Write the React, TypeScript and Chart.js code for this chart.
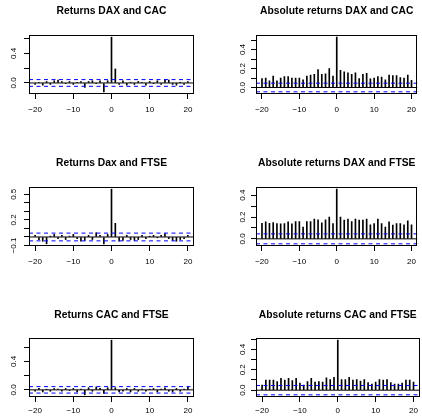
import React, { useEffect, useRef } from "react";
import { Chart, registerables } from "chart.js";

Chart.register(...registerables);

// ---------- data ----------
const lags = [
  -20, -19, -18, -17, -16, -15, -14, -13, -12, -11, -10, -9, -8, -7, -6, -5, -4, -3, -2, -1,
  0, 1, 2, 3, 4, 5, 6, 7, 8, 9, 10, 11, 12, 13, 14, 15, 16, 17, 18, 19, 20,
];

const ciLevel = 0.0455;

const xTickValues = [-20, -10, 0, 10, 20];
const xTickLabels = ["\u221220", "\u221210", "0", "10", "20"];

const titles = [
  "Returns DAX and CAC",
  "Absolute returns DAX and CAC",
  "Returns Dax and FTSE",
  "Absolute returns DAX and FTSE",
  "Returns CAC and FTSE",
  "Absolute returns CAC and FTSE",
];

const retDaxCac = [
  -0.02, 0.01, -0.03, 0.02, -0.02, 0.03, 0.04, 0.02, -0.01, 0.02, -0.02, 0.01, 0.02, -0.06, 0.02, 0.03, -0.01, 0.03, -0.12, 0.03,
  0.62,
  0.19, -0.02, 0.03, -0.03, 0.01, -0.02, 0.02, 0.01, -0.03, 0.02, -0.01, 0.03, -0.02, 0.05, 0.04, -0.02, -0.03, 0.01, -0.02, 0.02,
];
const absDaxCac = [
  0.095, 0.1, 0.07, 0.12, 0.07, 0.1, 0.115, 0.115, 0.1, 0.1, 0.1, 0.08, 0.12, 0.13, 0.14, 0.19, 0.14, 0.145, 0.2, 0.12,
  0.53,
  0.18, 0.165, 0.155, 0.14, 0.155, 0.095, 0.14, 0.15, 0.09, 0.1, 0.115, 0.11, 0.08, 0.13, 0.125, 0.125, 0.105, 0.1, 0.13, 0.075,
];
const retDaxFtse = [
  0.02, -0.03, -0.05, -0.08, 0.01, 0.03, -0.02, 0.02, -0.03, 0.01, 0.03, -0.02, -0.05, -0.04, 0.02, -0.03, 0.05, 0.02, -0.08, 0.03,
  0.56,
  0.16, -0.05, -0.04, 0.02, -0.03, -0.04, -0.03, 0.02, -0.02, 0.01, 0.02, -0.01, 0.02, 0.04, -0.02, -0.04, -0.05, -0.03, -0.02, 0.02,
];
const absDaxFtse = [
  0.143, 0.155, 0.143, 0.15, 0.14, 0.137, 0.14, 0.155, 0.137, 0.158, 0.158, 0.107, 0.158, 0.158, 0.18, 0.175, 0.146, 0.175, 0.2, 0.14,
  0.455,
  0.2, 0.173, 0.18, 0.158, 0.18, 0.173, 0.173, 0.18, 0.128, 0.14, 0.18, 0.14, 0.107, 0.155, 0.125, 0.14, 0.14, 0.128, 0.165, 0.128,
];
const retCacFtse = [
  -0.02, 0.02, -0.03, 0.01, -0.02, 0.02, 0.01, -0.02, 0.02, -0.01, 0.02, -0.03, 0.01, -0.07, 0.03, -0.02, 0.04, 0.02, -0.05, 0.03,
  0.7,
  0.03, -0.03, -0.02, 0.02, -0.03, 0.02, -0.02, 0.01, -0.02, 0.01, 0.02, -0.03, 0.01, 0.03, -0.02, -0.03, 0.02, -0.02, 0.01, 0.04,
];
const absCacFtse = [
  0.05, 0.1, 0.1, 0.1, 0.085, 0.115, 0.1, 0.115, 0.095, 0.115, 0.07, 0.05, 0.085, 0.115, 0.08, 0.085, 0.08, 0.12, 0.105, 0.125,
  0.49,
  0.105, 0.105, 0.125, 0.1, 0.105, 0.09, 0.105, 0.075, 0.06, 0.08, 0.105, 0.1, 0.105, 0.075, 0.06, 0.06, 0.07, 0.1, 0.1, 0.08,
];

const yTicksP1 = [0, 0.2, 0.4, 0.6];
const yLabelsP1 = ["0.0", "", "0.4", ""];
const yTicksP2 = [0, 0.1, 0.2, 0.3, 0.4, 0.5];
const yLabelsP2 = ["0.0", "", "0.2", "", "0.4", ""];
const yTicksP3 = [-0.1, 0, 0.1, 0.2, 0.3, 0.4, 0.5];
const yLabelsP3 = ["\u22120.1", "", "", "0.2", "", "", "0.5"];
const yTicksP4 = [0, 0.1, 0.2, 0.3, 0.4];
const yLabelsP4 = ["0.0", "", "0.2", "", "0.4"];
const yTicksP5 = [0, 0.2, 0.4, 0.6];
const yLabelsP5 = ["0.0", "", "0.4", ""];
const yTicksP6 = [0, 0.1, 0.2, 0.3, 0.4, 0.5];
const yLabelsP6 = ["0.0", "", "0.2", "", "0.4", ""];

// ---------- layout ----------
const FONT = "'Liberation Sans', Arial, Helvetica, sans-serif";
const COL_LEFT = [0, 211];
const COL_W = 211;
const BOX_LEFT = [29, 256];
const BOX_W = 165;
const BOX_TOP = [35, 187, 338];
const BOX_H = 59;
const CANVAS_H = 119;
const LOCAL_TOP = 35;
const Y_AXIS_W = 25;
const X_AXIS_H = 24;
const Y_LABEL_OFF = [15, 13];
const TITLE_OFF = [24, 24, 23];
const X_LABEL_PAD = [6, 6, 4];

type Spec = {
  title: string;
  values: number[];
  yTicks: number[];
  yLabels: string[];
  row: number;
  col: number;
};

const panels: Spec[] = [
  { title: titles[0], values: retDaxCac, yTicks: yTicksP1, yLabels: yLabelsP1, row: 0, col: 0 },
  { title: titles[1], values: absDaxCac, yTicks: yTicksP2, yLabels: yLabelsP2, row: 0, col: 1 },
  { title: titles[2], values: retDaxFtse, yTicks: yTicksP3, yLabels: yLabelsP3, row: 1, col: 0 },
  { title: titles[3], values: absDaxFtse, yTicks: yTicksP4, yLabels: yLabelsP4, row: 1, col: 1 },
  { title: titles[4], values: retCacFtse, yTicks: yTicksP5, yLabels: yLabelsP5, row: 2, col: 0 },
  { title: titles[5], values: absCacFtse, yTicks: yTicksP6, yLabels: yLabelsP6, row: 2, col: 1 },
];

function Panel({ spec }: { spec: Spec }) {
  const ref = useRef<HTMLCanvasElement>(null);
  const canvasLeft = COL_LEFT[spec.col];
  const canvasTop = BOX_TOP[spec.row] - LOCAL_TOP;

  useEffect(() => {
    if (!ref.current) return;
    const localBoxL = BOX_LEFT[spec.col] - canvasLeft;
    const lo = Math.min(...spec.values, -ciLevel);
    const hi = Math.max(...spec.values, ciLevel);
    const ext = 0.04 * (hi - lo);
    const lagMin = lags[0];
    const lagMax = lags[lags.length - 1];
    const xExt = 0.04 * (lagMax - lagMin);
    const xlo = lagMin - xExt;
    const xhi = lagMax + xExt;
    const labelOff = Y_LABEL_OFF[spec.col];
    const titleOff = TITLE_OFF[spec.row];

    const decor = {
      id: "decor",
      afterDraw(chart: any) {
        const { ctx, chartArea: a } = chart;
        ctx.save();
        ctx.strokeStyle = "#000";
        ctx.lineWidth = 1;
        ctx.strokeRect(
          Math.round(a.left) + 0.5,
          Math.round(a.top) + 0.5,
          Math.round(a.right - a.left) - 1,
          Math.round(a.bottom - a.top) - 1
        );
        ctx.fillStyle = "#000";
        ctx.font = `bold 10.3px ${FONT}`;
        ctx.textAlign = "center";
        ctx.textBaseline = "middle";
        ctx.fillText(spec.title, (a.left + a.right) / 2, a.top - titleOff);
        const ys = chart.scales.y;
        ctx.font = `8px ${FONT}`;
        spec.yTicks.forEach((v, i) => {
          const lab = spec.yLabels[i];
          if (!lab) return;
          const py = ys.getPixelForValue(v);
          ctx.save();
          ctx.translate(a.left - labelOff, py);
          ctx.rotate(-Math.PI / 2);
          ctx.fillText(lab, 0, 0);
          ctx.restore();
        });
        ctx.restore();
      },
    };

    const chart = new Chart(ref.current, {
      type: "bar",
      data: {
        datasets: [
          {
            type: "line",
            data: [
              { x: xlo, y: ciLevel },
              { x: xhi, y: ciLevel },
            ],
            borderColor: "#0000ff",
            borderWidth: 1,
            borderDash: [4, 3.5],
            pointRadius: 0,
            order: 1,
          } as any,
          {
            type: "line",
            data: [
              { x: xlo, y: -ciLevel },
              { x: xhi, y: -ciLevel },
            ],
            borderColor: "#0000ff",
            borderWidth: 1,
            borderDash: [4, 3.5],
            pointRadius: 0,
            order: 1,
          } as any,
          {
            type: "line",
            data: [
              { x: xlo, y: 0 },
              { x: xhi, y: 0 },
            ],
            borderColor: "#000",
            borderWidth: 1,
            pointRadius: 0,
            order: 2,
          } as any,
          {
            type: "bar",
            data: lags.map((l, i) => ({ x: l, y: spec.values[i] })),
            backgroundColor: "#000",
            barThickness: 1,
            order: 3,
          } as any,
        ],
      },
      options: {
        animation: false,
        responsive: false,
        events: [],
        layout: {
          padding: {
            left: localBoxL - Y_AXIS_W,
            right: COL_W - (localBoxL + BOX_W),
            top: LOCAL_TOP,
            bottom: CANVAS_H - LOCAL_TOP - BOX_H - X_AXIS_H,
          },
        },
        plugins: {
          legend: { display: false },
          tooltip: { enabled: false },
          title: { display: false },
        },
        scales: {
          x: {
            type: "linear",
            min: xlo,
            max: xhi,
            bounds: "data",
            offset: false,
            afterBuildTicks: (s: any) => {
              s.ticks = xTickValues.map((v) => ({ value: v }));
            },
            afterFit: (s: any) => {
              s.height = X_AXIS_H;
            },
            grid: {
              display: true,
              drawOnChartArea: false,
              drawTicks: true,
              tickLength: 5,
              color: "#000",
              offset: false,
            },
            border: { display: false },
            ticks: {
              color: "#000",
              font: { size: 8, family: FONT },
              padding: X_LABEL_PAD[spec.row],
              maxRotation: 0,
              minRotation: 0,
              autoSkip: false,
              callback: (_v: any, i: number) => xTickLabels[i],
            },
          },
          y: {
            type: "linear",
            min: lo - ext,
            max: hi + ext,
            bounds: "data",
            afterBuildTicks: (s: any) => {
              s.ticks = spec.yTicks.map((v) => ({ value: v }));
            },
            afterFit: (s: any) => {
              s.width = Y_AXIS_W;
            },
            grid: {
              display: true,
              drawOnChartArea: false,
              drawTicks: true,
              tickLength: 5,
              color: "#000",
            },
            border: { display: false },
            ticks: { display: false },
          },
        },
      } as any,
      plugins: [decor],
    });
    return () => chart.destroy();
  }, [spec]);

  return (
    <canvas
      ref={ref}
      width={COL_W}
      height={CANVAS_H}
      style={{
        position: "absolute",
        left: canvasLeft,
        top: canvasTop,
        width: COL_W,
        height: CANVAS_H,
        display: "block",
      }}
    />
  );
}

export default function App() {
  return (
    <div
      style={{
        position: "fixed",
        left: 0,
        top: 0,
        width: 422,
        height: 416,
        overflow: "hidden",
        background: "#fff",
      }}
    >
      {panels.map((p, i) => (
        <Panel key={i} spec={p} />
      ))}
    </div>
  );
}
